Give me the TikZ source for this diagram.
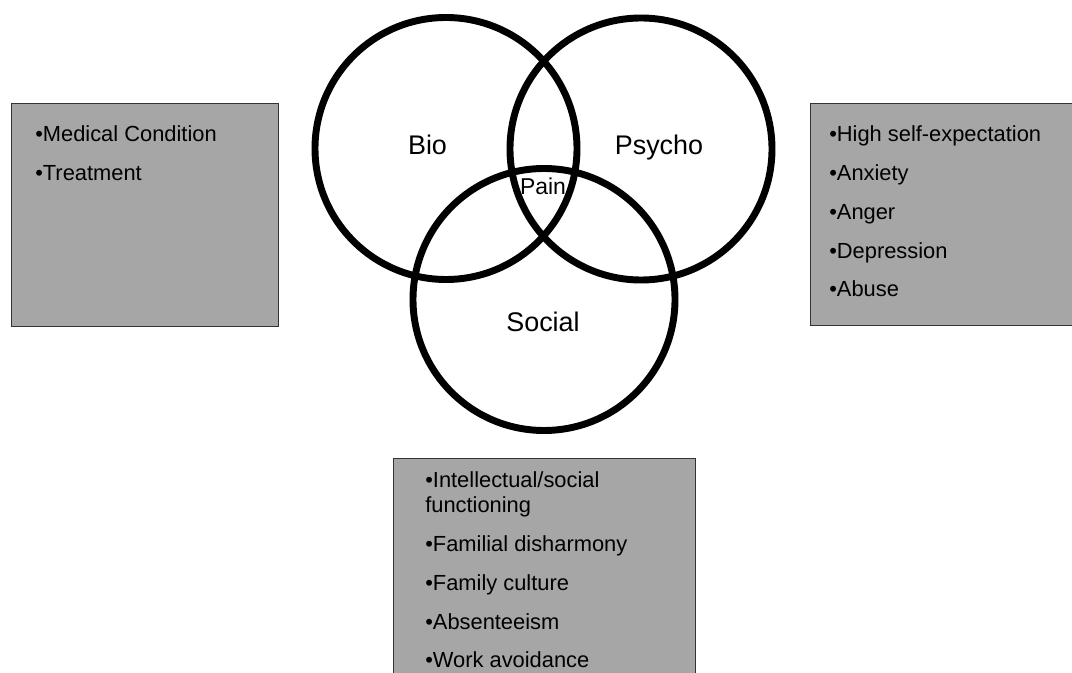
\documentclass[tikz,border=0pt]{standalone}
\usepackage{fontspec}
\setmainfont{Liberation Sans}
\begin{document}
\begin{tikzpicture}[x=0.75pt,y=-0.75pt,
  ring/.style={draw=black,line width=5.2pt,circle,minimum size={262*0.75pt},inner sep=0pt},
  panel/.style={draw=black!80,line width=1.1pt,fill=boxgray,inner sep=0pt,anchor=north west},
  item/.style={anchor=base west,inner sep=0pt,font=\fontsize{16.4}{19}\selectfont},
  biglabel/.style={anchor=base,inner sep=0pt,font=\fontsize{20.2}{24}\selectfont},
  smalllabel/.style={anchor=base,inner sep=0pt,font=\fontsize{17.2}{20}\selectfont}]
\definecolor{boxgray}{RGB}{166,166,166}
\useasboundingbox (0,0) rectangle (1072,673);

% side and bottom panels
\node[panel,minimum width={267*0.75pt},minimum height={223*0.75pt}] (leftbox) at (11,103) {};
\node[panel,minimum width={280*0.75pt},minimum height={222*0.75pt}] (rightbox) at (810,103) {};
\node[panel,minimum width={302*0.75pt},minimum height={240*0.75pt}] (bottombox) at (393,458) {};

% the three overlapping circles
\node[ring] (bio) at (446,148.5) {};
\node[ring] (psycho) at (641,149) {};
\node[ring] (social) at (544,299.5) {};

\node[biglabel] (biotext) at (427.5,155) {Bio};
\node[biglabel] (psychotext) at (659,155) {Psycho};
\node[smalllabel] (paintext) at (543,195) {Pain};
\node[biglabel] (socialtext) at (543,331.5) {Social};

% list entries
\foreach \t [count=\i] in {Medical Condition,Treatment}
  \node[item] (bioitem-\i) at (35,{141.7+38.5*(\i-1)}) {•\t};
\foreach \t [count=\i] in {High self-expectation,Anxiety,Anger,Depression,Abuse}
  \node[item] (psychoitem-\i) at (829,{141.7+38.8*(\i-1)}) {•\t};
\node[item] (socialitem-1) at (425,488) {•Intellectual/social};
\node[item] (socialitem-1b) at (425,513) {functioning};
\foreach \t [count=\i from 2] in {Familial disharmony,Family culture,Absenteeism,Work avoidance}
  \node[item] (socialitem-\i) at (425,{552+38.5*(\i-2)}) {•\t};
\end{tikzpicture}
\end{document}
